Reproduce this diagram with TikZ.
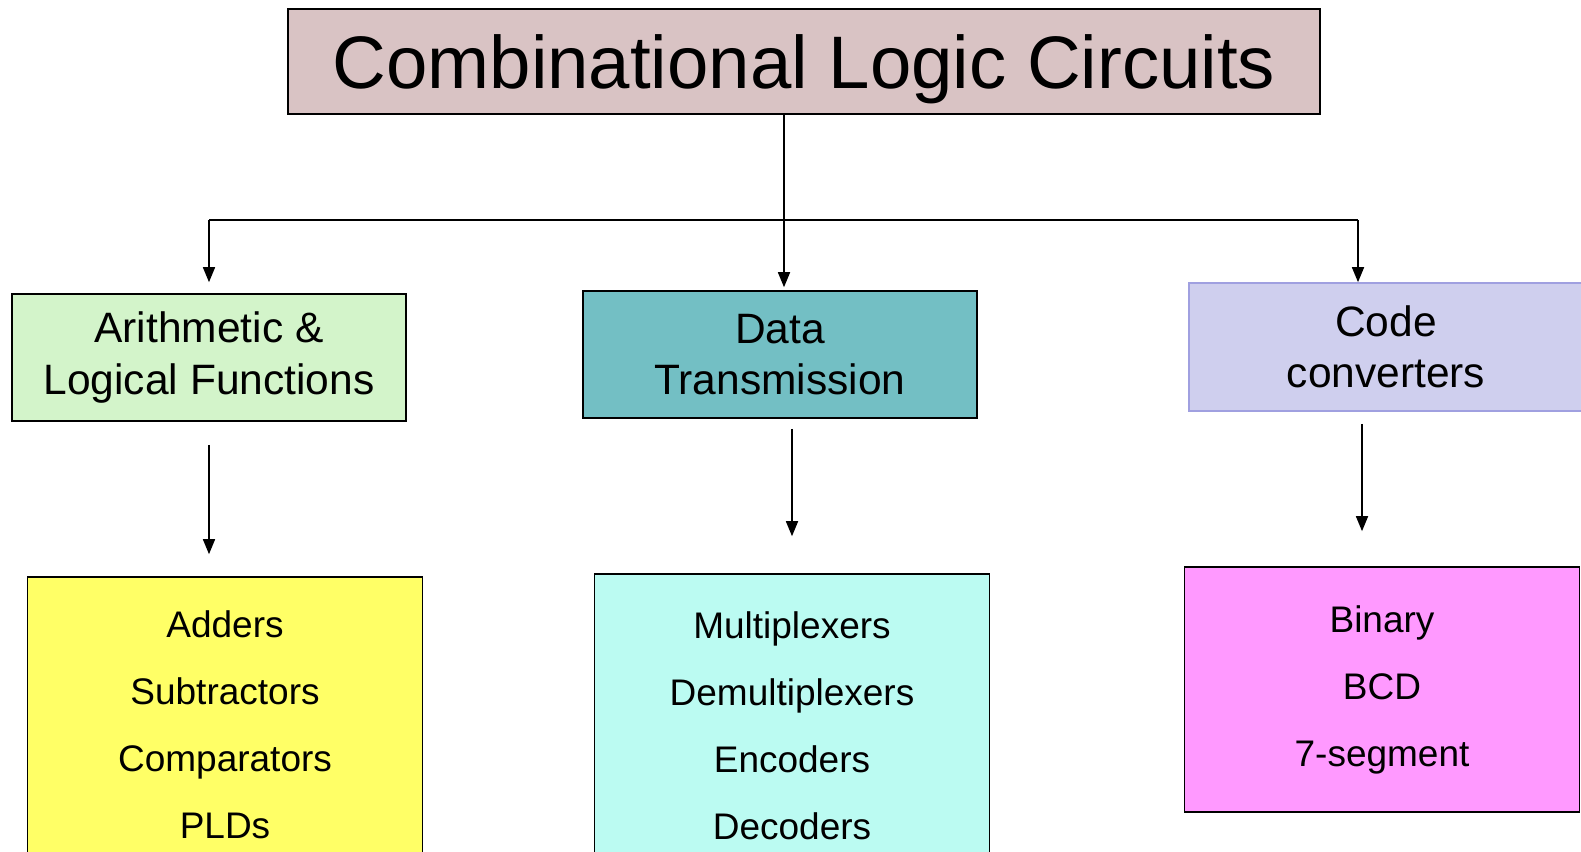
\documentclass[tikz,border=0pt]{standalone}
\usepackage{fontspec}
\setmainfont{Liberation Sans}
\usetikzlibrary{arrows.meta,positioning}
\definecolor{titlefill}{HTML}{D9C3C4}
\definecolor{arithfill}{HTML}{D3F4CA}
\definecolor{datafill}{HTML}{73BFC4}
\definecolor{codefill}{HTML}{CFCFEE}
\definecolor{codeline}{HTML}{A0A0E0}
\definecolor{yellowfill}{HTML}{FFFF66}
\definecolor{cyanfill}{HTML}{BBFBF2}
\definecolor{pinkfill}{HTML}{FF99FF}
\begin{document}
\begin{tikzpicture}[x=1pt,y=-1pt]
\tikzset{BoxStyle/.style={draw, line width=1.6pt, rectangle, inner sep=0pt, align=center}}
 \tikzset{TitleStyle/.style={BoxStyle, fill=titlefill, minimum width=1032pt, minimum height=105pt,
   text depth=0pt, font=\fontsize{74.4}{80}\selectfont}}
 \tikzset{GroupStyle/.style={BoxStyle, minimum width=394pt, minimum height=127pt,
   font=\fontsize{42.5}{51.5}\selectfont}}
 \tikzset{ListStyle/.style={BoxStyle, minimum width=395pt,
   font=\fontsize{37}{67}\selectfont}}
\tikzset{EdgeStyle/.style={line width=1.6pt}}
 \tikzset{ArrowStyle/.style={EdgeStyle, -{Triangle[length=15pt,width=12pt]}}}
\useasboundingbox[fill=white] (0,0) rectangle (1581,851);
  \node[TitleStyle] (title) at (804,61.5) {Combinational Logic Circuits};
  \node[GroupStyle, fill=arithfill] (arith) at (209,357.5) {Arithmetic \&\\Logical Functions};
  \node[GroupStyle, fill=datafill] (data) at (780,354.5) {Data\\Transmission};
  \node[GroupStyle, fill=codefill, draw=codeline, minimum height=128pt] (code) at (1386,347) {Code\\converters};
  \node[ListStyle, fill=yellowfill, minimum height=296pt] (arithlist) at (225,725) {Adders\\Subtractors\\Comparators\\PLDs};
  \node[ListStyle, fill=cyanfill, minimum height=304pt] (datalist) at (792,726) {Multiplexers\\Demultiplexers\\Encoders\\Decoders};
  \node[ListStyle, fill=pinkfill, minimum height=245pt] (codelist) at (1382,689.5) {Binary\\BCD\\7-segment};
  \coordinate (split) at (784,220);
  \coordinate (codein) at (1358,220);
\draw[EdgeStyle] (title.south -| split) -- (split);
\draw[EdgeStyle] (split -| arith.north) -- (codein);
\draw[ArrowStyle, shorten >=11pt] (split -| arith.north) -- (arith.north);
  \draw[ArrowStyle, shorten >=3pt] (split) -- (split |- data.north);
  \draw[ArrowStyle] (codein) -- (codein |- code.north);
\draw[ArrowStyle, shorten <=23pt, shorten >=22pt] (arith.south) -- (arith.south |- arithlist.north);
  \draw[ArrowStyle, shorten <=10pt, shorten >=37pt] (data.south -| datalist.north) -- (datalist.north);
  \draw[ArrowStyle, shorten <=12pt, shorten >=35pt] ([xshift=-24pt]code.south) -- ([xshift=-24pt]code.south |- codelist.north);
\end{tikzpicture}
\end{document}
